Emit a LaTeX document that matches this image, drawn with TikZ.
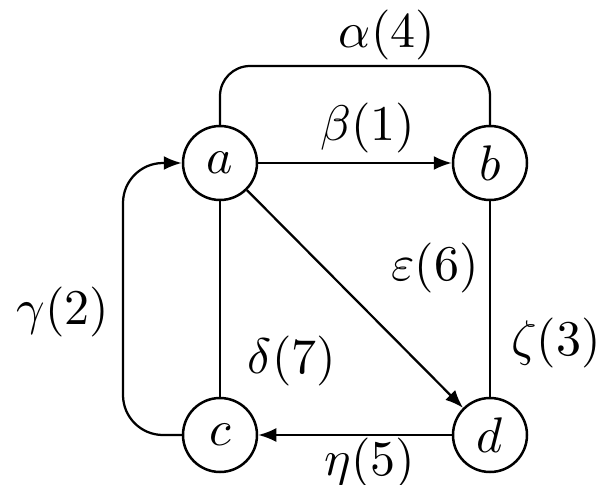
\documentclass[tikz,border=0pt]{standalone}
\usepackage{amsmath,amssymb}
\usepackage{tikz}
\usetikzlibrary{arrows.meta,positioning,calc}

\begin{document}
\begin{tikzpicture}[x=2pt,y=2pt,
    vertex/.style={draw,circle,line width=0.5pt,minimum size=14.8pt,inner sep=0pt},
    edge/.style={line width=0.45pt},
    arc/.style={edge,-{Latex[length=3.6pt,width=2.8pt]}}]
  \useasboundingbox (0,0) rectangle (60.4,48.4);
  \node[vertex] (a) at (22,32.1) {$a$};
  \node[vertex] (b) at (49,32.1) {$b$};
  \node[vertex] (c) at (22,4.9) {$c$};
  \node[vertex] (d) at (49,4.9) {$d$};
  \coordinate (top) at (0,41.8);
  \coordinate (left) at (12.3,0);
  \draw[edge,rounded corners=6pt] (a.north) |- (top -| b.north) -- (b.north);
  \draw[arc] (a) -- (b);
  \draw[arc,rounded corners=8pt] (c.west) -| (left |- a) -- (a.west);
  \draw[edge] (a) -- (c);
  \draw[arc] (a) -- (d);
  \draw[edge] (b) -- (d);
  \draw[arc] (d) -- (c);
  \node (lalpha) at (38.7,44.9) {$\alpha(4)$};
  \node (lbeta) at (36.8,35.6) {$\beta(1)$};
  \node (lgamma) at (6.3,17.2) {$\gamma(2)$};
  \node (ldelta) at (29.2,12.3) {$\delta(7)$};
  \node (leps) at (43.5,21.6) {$\varepsilon(6)$};
  \node (lzeta) at (55.6,14.1) {$\zeta(3)$};
  \node (leta) at (37,2.1) {$\eta(5)$};
\end{tikzpicture}
\end{document}
